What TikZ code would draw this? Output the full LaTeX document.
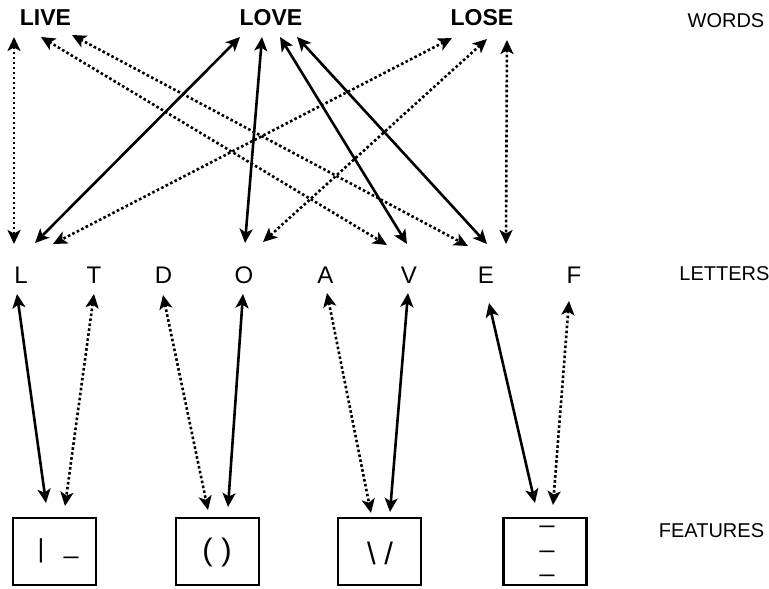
\documentclass[tikz,border=0pt]{standalone}
\usepackage{fontspec}
\setmainfont{Liberation Sans}
\usetikzlibrary{arrows.meta,calc}
\tikzset{
  word/.style={font=\fontsize{23}{25}\selectfont\bfseries, inner sep=0pt},
  letter/.style={font=\fontsize{24}{26}\selectfont, inner sep=0pt},
  rowlabel/.style={font=\fontsize{20}{22}\selectfont, inner sep=0pt},
  featbox/.style={draw, line width=2.6pt, minimum width=83pt, minimum height=67pt, inner sep=0pt},
  glyph/.style={font=\fontsize{31}{33}\selectfont, inner sep=0pt, anchor=base},
  stroke/.style={font=\fontsize{26}{28}\selectfont, inner sep=0pt, anchor=base},
  link/.style={line width=2.6pt,
    {Stealth[length=14pt,width=13pt,inset=3.5pt]}-{Stealth[length=14pt,width=13pt,inset=3.5pt]}},
  solidlink/.style={link},
  dottedlink/.style={link, dash pattern=on 2.6pt off 2.4pt},
}
\begin{document}
\begin{tikzpicture}[x=1pt,y=-1pt]
\useasboundingbox (0,0) rectangle (769,589);

% word layer
\node[word] (LIVE) at (45.5,18) {LIVE};
\node[word] (LOVE) at (271,18) {LOVE};
\node[word] (LOSE) at (482,18) {LOSE};
\node[rowlabel] (words) at (726,21) {WORDS};

% letter layer
\node[letter] (L) at (21,275.5) {L};
\node[letter] (T) at (94,275.5) {T};
\node[letter] (D) at (163.5,275.5) {D};
\node[letter] (O) at (244,275.5) {O};
\node[letter] (A) at (325.5,275.5) {A};
\node[letter] (V) at (409,275.5) {V};
\node[letter] (E) at (486,275.5) {E};
\node[letter] (F) at (574,275.5) {F};
\node[rowlabel] (letters) at (724.5,274) {LETTERS};

% feature layer
\node[featbox] (f1) at (54.5,551.5) {};
\node[featbox] (f2) at (217.5,551.5) {};
\node[featbox] (f3) at (379.5,551.5) {};
\node[featbox] (f4) at (545,551.5) {};
\node[rowlabel] (features) at (711.5,531) {FEATURES};

\node[stroke] (bar) at (41,557.5) {|};
\node[stroke] (low) at (71,553.5) {\_};
\node[glyph] (parens) at (217,560.5) {( )};
\node[glyph] (slashes) at (380,564) {\textbackslash\ /};
\node[stroke] (dashA) at (547,522.5) {\_};
\node[stroke] (dashB) at (547,547.5) {\_};
\node[stroke] (dashC) at (547,571.5) {\_};

% words <-> letters
\draw[dottedlink] ($(LIVE)+(-31.5,19)$) -- ($(L)+(-7,-31.5)$);
\draw[dottedlink] ($(LIVE)+(-4.5,19)$) -- ($(V)+(-22,-30.5)$);
\draw[dottedlink] ($(LIVE)+(26.5,17)$) -- ($(E)+(-18,-29.5)$);
\draw[solidlink] ($(LOVE)+(-31,19)$) -- ($(L)+(14,-32.5)$);
\draw[solidlink] ($(LOVE)+(-9,19)$) -- ($(O)+(1,-32.5)$);
\draw[solidlink] ($(LOVE)+(9,19)$) -- ($(V)+(-2,-31.5)$);
\draw[solidlink] ($(LOVE)+(26,19)$) -- ($(E)+(1,-31.5)$);
\draw[dottedlink] ($(LOSE)+(-30,20)$) -- ($(L)+(32,-31.5)$);
\draw[dottedlink] ($(LOSE)+(5,21)$) -- ($(O)+(19,-33.5)$);
\draw[dottedlink] ($(LOSE)+(25,22)$) -- ($(E)+(20,-31.5)$);

% letters <-> features
\draw[solidlink] ($(L)+(-4,18.5)$) -- ($(f1)+(-8.5,-48.5)$);
\draw[dottedlink] ($(T)+(0,18.5)$) -- ($(f1)+(10.5,-45.5)$);
\draw[dottedlink] ($(D)+(-0.5,19.5)$) -- ($(f2)+(-9.5,-41.5)$);
\draw[solidlink] ($(O)+(-1,18.5)$) -- ($(f2)+(10.5,-44.5)$);
\draw[dottedlink] ($(A)+(1.5,17.5)$) -- ($(f3)+(-8.5,-38.5)$);
\draw[solidlink] ($(V)+(-1,17.5)$) -- ($(f3)+(10.5,-39.5)$);
\draw[solidlink] ($(E)+(3,27.5)$) -- ($(f4)+(-10,-48.5)$);
\draw[dottedlink] ($(F)+(-5,25.5)$) -- ($(f4)+(8,-46.5)$);
\end{tikzpicture}
\end{document}
